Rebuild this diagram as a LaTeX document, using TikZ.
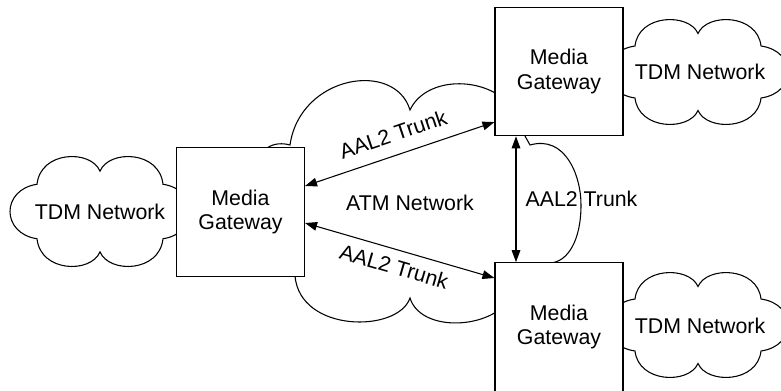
\documentclass[tikz,border=0pt]{standalone}
\usepackage{fontspec}
\setmainfont{Liberation Sans}
\usetikzlibrary{arrows.meta}

% TDM cloud outline in a unit box: #1,#2 = top-left corner, #3 = width, #4 = height
\newcommand\tdmcloud[4]{%
  \begin{scope}[shift={(#1,#2)}, xscale=#3, yscale=#4]
    \path[cloudline] (0.15,0.75)
      .. controls (-0.05,0.70) and (-0.05,0.30) .. (0.15,0.25)
      .. controls (0.17,-0.06) and (0.45,-0.07) .. (0.50,0.13)
      .. controls (0.55,-0.07) and (0.83,-0.06) .. (0.85,0.25)
      .. controls (1.05,0.30) and (1.05,0.70) .. (0.85,0.75)
      .. controls (0.83,1.06) and (0.55,1.07) .. (0.50,0.87)
      .. controls (0.45,1.07) and (0.17,1.06) .. (0.15,0.75) -- cycle;
  \end{scope}}

\begin{document}
\begin{tikzpicture}[x=0.75pt, y=-0.75pt,
  line width=0.8pt,
  every node/.style={font=\fontsize{16}{18.4}\selectfont, align=center},
  gw/.style={draw, fill=white, minimum width=96pt, minimum height=96.5pt, inner sep=0pt},
  cloudline/.style={draw, fill=white},
  trunk/.style={{Triangle[length=9pt,width=6.5pt]}-{Triangle[length=9pt,width=6.5pt]}},
]
\useasboundingbox (0,0) rectangle (781,390);

% clouds (drawn first, the gateways cover their hidden parts)
\tdmcloud{10}{157}{180}{109}
\tdmcloud{608}{20}{180}{104}
\tdmcloud{608}{273}{180}{104}

% ATM network cloud
\path[cloudline] (290,145)
  .. controls (300,75) and (395,60) .. (410,110)
  .. controls (425,78) and (478,76) .. (505,100)
  -- (525,136) -- (530,145)
  .. controls (565,135) and (581,175) .. (581,205)
  .. controls (581,240) and (568,262) .. (550,263)
  -- (505,305)
  .. controls (480,330) and (420,330) .. (410,298)
  .. controls (398,333) and (300,333) .. (295,276)
  -- (267,148)
  .. controls (274,143) and (283,143) .. (290,145) -- cycle;

% media gateways
\node[gw] (lgw) at (240.5,212) {Media\\Gateway};
\node[gw] (tgw) at (559,71.5) {Media\\Gateway};
\node[gw] (bgw) at (559,327) {Media\\Gateway};

% network labels
\node (ltdm) at (100,212) {TDM Network};
\node (ttdm) at (700,72) {TDM Network};
\node (btdm) at (700,326) {TDM Network};
\node (atm) at (410,203) {ATM Network};

% AAL2 trunks
\draw[trunk] ([yshift=19.5pt]lgw.east) --
  node[sloped, above=6pt, pos=0.5] (ttrunk) {AAL2 Trunk}
  ([yshift=-37.9pt]tgw.west);
\draw[trunk] ([yshift=-8.25pt]lgw.east) --
  node[sloped, below=3pt, pos=0.495] (btrunk) {AAL2 Trunk}
  ([yshift=36.75pt]bgw.west);
\draw[trunk] ([xshift=-32.25pt]tgw.south) --
  node[anchor=west, inner sep=0pt, xshift=6.75pt] (vtrunk) {AAL2 Trunk}
  ([xshift=-32.25pt]bgw.north);
\end{tikzpicture}
\end{document}
